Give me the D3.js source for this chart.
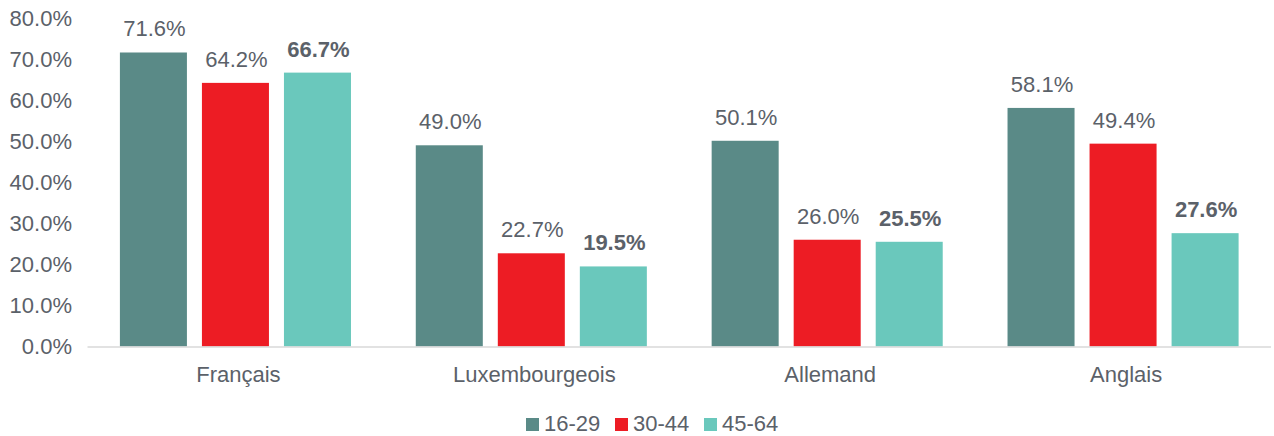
<!DOCTYPE html>
<html>
<head>
<meta charset="utf-8">
<script src="https://cdn.jsdelivr.net/npm/d3@7"></script>
<style>
  body { margin: 0; background: #fff; }
  svg text { font-family: "Liberation Sans", Arial, sans-serif; fill: #5b6169; }
</style>
</head>
<body>
<svg width="1274" height="436"></svg>
<script>
const width = 1274, height = 436;
const svg = d3.select("svg");

// Data
const languages = ["Français", "Luxembourgeois", "Allemand", "Anglais"];
const ageGroups = ["16-29", "30-44", "45-64"];
const values1629 = [71.6, 49.0, 50.1, 58.1];
const values3044 = [64.2, 22.7, 26.0, 49.4];
const values4564 = [66.7, 19.5, 25.5, 27.6];
const yTicks = [0, 10, 20, 30, 40, 50, 60, 70, 80];
const colors = ["#5a8a87", "#ed1c24", "#6ac8bc"];

const series = [values1629, values3044, values4564];

// Scales
const x0 = d3.scaleBand()
    .domain(languages)
    .range([87.5, 1271]);

const x1 = d3.scaleBand()
    .domain(ageGroups)
    .range([0, x0.bandwidth()])
    .paddingInner(0.183)
    .paddingOuter(0.395);

const y = d3.scaleLinear()
    .domain([0, 80])
    .range([346.5, 18]);

// Y axis tick labels (no line)
svg.append("g")
    .selectAll("text")
    .data(yTicks)
    .enter().append("text")
    .attr("x", 72)
    .attr("y", d => y(d))
    .attr("dy", "0.35em")
    .attr("text-anchor", "end")
    .style("font-size", "22px")
    .text(d => d.toFixed(1) + "%");

// Bars
const groups = svg.append("g")
    .selectAll("g")
    .data(languages)
    .enter().append("g")
    .attr("transform", d => `translate(${x0(d)},0)`);

groups.selectAll("rect")
    .data((d, i) => ageGroups.map((g, j) => ({ group: g, value: series[j][i], idx: j })))
    .enter().append("rect")
    .attr("x", d => x1(d.group))
    .attr("y", d => y(d.value))
    .attr("width", x1.bandwidth())
    .attr("height", d => y(0) - y(d.value))
    .attr("fill", d => colors[d.idx]);

// Value labels
groups.selectAll("text")
    .data((d, i) => ageGroups.map((g, j) => ({ group: g, value: series[j][i], idx: j })))
    .enter().append("text")
    .attr("x", d => x1(d.group) + x1.bandwidth() / 2 + 1)
    .attr("y", d => y(d.value) - 16)
    .attr("text-anchor", "middle")
    .style("font-size", "22px")
    .style("font-weight", d => d.idx === 2 ? "bold" : "normal")
    .text(d => d.value.toFixed(1) + "%");

// X axis line
svg.append("line")
    .attr("x1", x0.range()[0])
    .attr("x2", x0.range()[1])
    .attr("y1", y(0) + 0.5)
    .attr("y2", y(0) + 0.5)
    .attr("stroke", "#d9d9d9")
    .attr("stroke-width", 1.5);

// X axis labels
svg.append("g")
    .selectAll("text")
    .data(languages)
    .enter().append("text")
    .attr("x", d => x0(d) + x0.bandwidth() / 2 + 3)
    .attr("y", 382)
    .attr("text-anchor", "middle")
    .style("font-size", "22px")
    .text(d => d);

// Legend
const legendX = [526, 615, 704];
const legend = svg.append("g")
    .selectAll("g")
    .data(ageGroups)
    .enter().append("g")
    .attr("transform", (d, i) => `translate(${legendX[i]},418)`);

legend.append("rect")
    .attr("width", 13)
    .attr("height", 13)
    .attr("fill", (d, i) => colors[i]);

legend.append("text")
    .attr("x", 18)
    .attr("y", 13)
    .style("font-size", "22px")
    .text(d => d);
</script>
</body>
</html>
